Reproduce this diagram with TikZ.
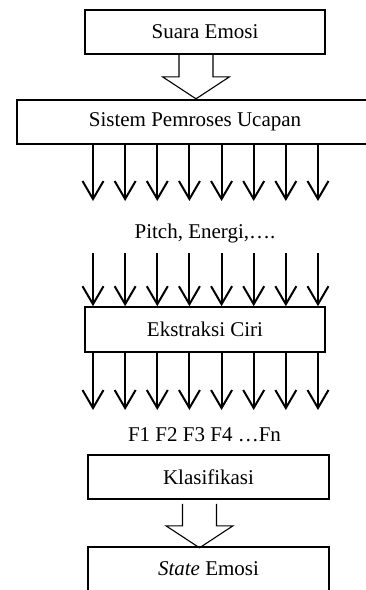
\documentclass[tikz,border=0pt]{standalone}
\usepackage{fontspec}
\setmainfont{Liberation Serif}
\usepackage{tikz}
\usetikzlibrary{arrows.meta,calc}

\begin{document}
\begin{tikzpicture}[x=1pt,y=-1pt,
      kotak/.style={draw,line width=1.6pt,minimum height=44pt,inner sep=0pt,
                    font=\fontsize{21}{25}\selectfont},
      label/.style={font=\fontsize{21}{25}\selectfont},
      panah/.style={-{Straight Barb[length=18pt,width=21pt,line width=2pt]},line width=2pt},
      blok/.style={line width=1.1pt,line join=miter},
    ]
    \useasboundingbox (0,0) rectangle (366,590);
    \clip (0,0) rectangle (366,590);
    \node[kotak,minimum width=240pt] (suara)  at (205,32)    {Suara Emosi};
    \node[kotak,minimum width=356pt] (sistem) at (195,122)   {Sistem Pemroses Ucapan};
    \node[label]                     (pitch)  at (205,233)   {Pitch, Energi,\dots.};
    \node[kotak,minimum width=240pt,minimum height=45pt] (ciri) at (205,329.5) {Ekstraksi Ciri};
    \node[label]                     (fitur)  at (204.5,435) {F1 F2 F3 F4 \dots Fn};
    \node[kotak,minimum width=241pt] (klas)   at (208.5,477) {Klasifikasi};
    \node[kotak,minimum width=241pt] (state)  at (208.5,569) {\textit{State} Emosi};
    % panah blok
    \foreach \dari/\turun in {suara/0,klas/4} {
      \draw[blok] ($(\dari.south)+(-26,\turun)$) -- ++(0,22) -- ++(-16.5,0)
        -- ++(33.5,22) -- ++(33.5,-22) -- ++(-16.5,0) -- ++(0,-22);
    }
    % tiga baris panah
    \foreach \i in {0,...,7} {
      \coordinate (a\i) at (93+32.14*\i,201);
      \coordinate (b\i) at (93+32.14*\i,253);
      \coordinate (c\i) at (93+32.14*\i,410);
      \draw[panah] (sistem.south -| a\i) -- (a\i);
      \draw[panah] (b\i) -- (ciri.north -| b\i);
      \draw[panah] (ciri.south -| c\i) -- (c\i);
    }
  \end{tikzpicture}
\end{document}
